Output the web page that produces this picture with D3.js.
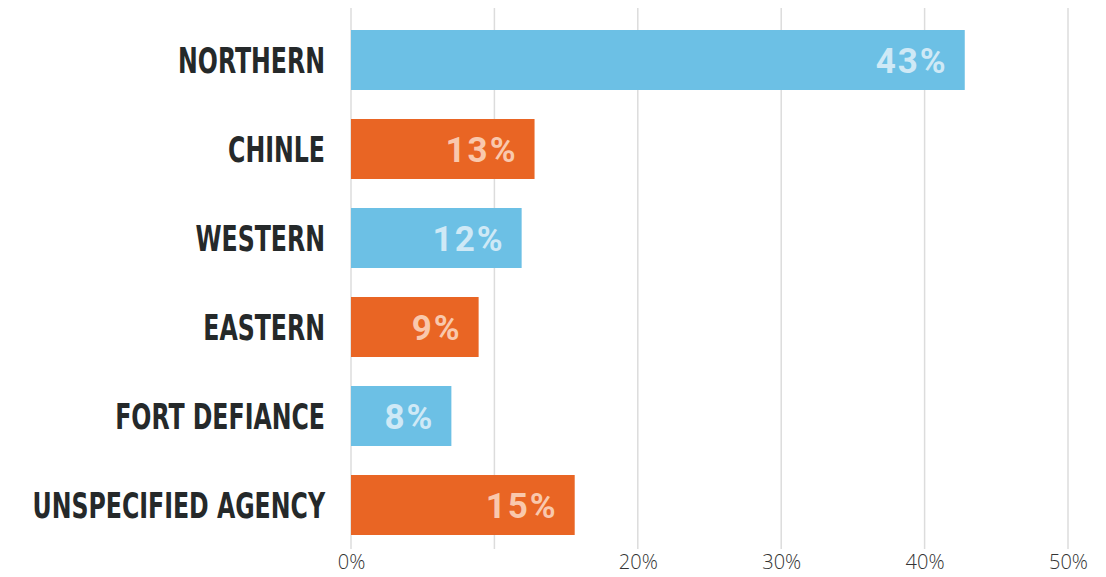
<!DOCTYPE html>
<html>
<head>
<meta charset="utf-8">
<script src="https://cdn.jsdelivr.net/npm/d3@7"></script>
<style>
  body { margin: 0; background: #fff; }
  svg { display: block; }
</style>
</head>
<body>
<svg id="chart" width="1106" height="577"></svg>
<script>
// ---- DATA ----
const categories = ["NORTHERN", "CHINLE", "WESTERN", "EASTERN", "FORT DEFIANCE", "UNSPECIFIED AGENCY"];
const shares = [42.8, 12.8, 11.9, 8.9, 7.0, 15.6];   // bar lengths, %
const shareLabels = ["43%", "13%", "12%", "9%", "8%", "15%"];
const tickValues = [0, 10, 20, 30, 40, 50];
const tickLabels = ["0%", "", "20%", "30%", "40%", "50%"];

// ---- LAYOUT ----
const svg = d3.select("#chart");
const x0 = 351, x1 = 1068;
const yTop = 15.5, yBottom = 549.5;

const blue = "#6cc0e5";
const orange = "#e96524";
const barColor = i => i % 2 === 0 ? blue : orange;
const labelColor = i => i % 2 === 0 ? "#cfe9f6" : "#f9c8ad";

const x = d3.scaleLinear().domain([0, 50]).range([x0, x1]);
const y = d3.scaleBand()
  .domain(categories)
  .range([yTop, yBottom])
  .paddingInner(0.326)
  .paddingOuter(0.163);

// gridlines
svg.append("g")
  .selectAll("line")
  .data(tickValues)
  .join("line")
  .attr("x1", d => x(d))
  .attr("x2", d => x(d))
  .attr("y1", 8)
  .attr("y2", 549)
  .attr("stroke", "#dcdcdc")
  .attr("stroke-width", 1.5);

// axis labels
const axis = d3.axisBottom(x)
  .tickValues(tickValues)
  .tickSize(0)
  .tickPadding(0)
  .tickFormat((d, i) => tickLabels[i]);

const axisG = svg.append("g")
  .attr("transform", "translate(0,553)")
  .call(axis);
axisG.select(".domain").remove();
axisG.selectAll("text")
  .attr("dy", "0")
  .attr("y", 16)
  .attr("fill", "#333")
  .attr("font-family", "'Open Sans', 'Liberation Sans', sans-serif")
  .attr("font-weight", 300)
  .attr("font-size", 20);

// bars
svg.append("g")
  .selectAll("rect")
  .data(shares)
  .join("rect")
  .attr("x", x(0))
  .attr("y", (d, i) => y(categories[i]))
  .attr("width", d => x(d) - x(0))
  .attr("height", y.bandwidth())
  .attr("fill", (d, i) => barColor(i));

// value labels inside bars
svg.append("g")
  .selectAll("text")
  .data(shares)
  .join("text")
  .attr("x", d => x(d) - 17)
  .attr("y", (d, i) => y(categories[i]) + y.bandwidth() / 2 + 13)
  .attr("text-anchor", "end")
  .attr("fill", (d, i) => labelColor(i))
  .attr("font-family", "Roboto, 'Liberation Sans', sans-serif")
  .attr("font-weight", 700)
  .attr("font-size", 35)
  .attr("letter-spacing", 2)
  .text((d, i) => shareLabels[i]);

// category labels
const condense = 0.73;
svg.append("g")
  .selectAll("text")
  .data(categories)
  .join("text")
  .attr("transform", d => `translate(325,${y(d) + y.bandwidth() / 2 + 13}) scale(${condense},1)`)
  .attr("text-anchor", "end")
  .attr("fill", "#25292a")
  .attr("font-family", "'DejaVu Sans Condensed', 'DejaVu Sans', sans-serif")
  .attr("font-weight", "bold")
  .attr("font-size", 36)
  .text(d => d);
</script>
</body>
</html>
